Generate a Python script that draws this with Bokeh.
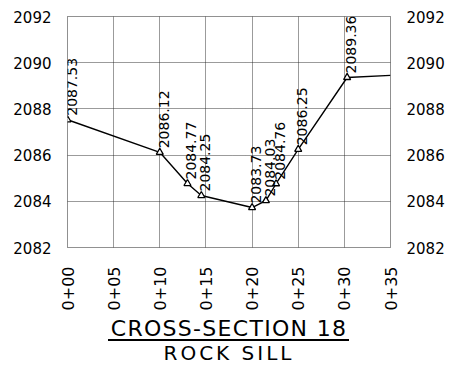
import math
from bokeh.plotting import figure
from bokeh.models import LinearAxis, FixedTicker, Range1d, ColumnDataSource, Div
from bokeh.layouts import column
from bokeh.core.properties import value
from bokeh.embed import file_html
from bokeh.resources import INLINE

# Data (station along section, elevation)
stations = [0, 10, 13, 14.5, 20, 21.5, 22.6, 25, 30.3]
elevations = [2087.53, 2086.12, 2084.77, 2084.25, 2083.73, 2084.03, 2084.76, 2086.25, 2089.36]
point_labels = ["2087.53", "2086.12", "2084.77", "2084.25", "2083.73", "2084.03", "2084.76", "2086.25", "2089.36"]
end_station = [35]
end_elevation = [2089.45]

x_ticks = [0, 5, 10, 15, 20, 25, 30, 35]
x_tick_labels = ["0+00", "0+05", "0+10", "0+15", "0+20", "0+25", "0+30", "0+35"]
y_ticks = [2082, 2084, 2086, 2088, 2090, 2092]

title_text = "CROSS-SECTION 18"
subtitle_text = "ROCK SILL"

FONT = "DejaVu Sans"

p = figure(width=447, height=313, output_backend="svg", toolbar_location=None,
           x_range=Range1d(0, 35), y_range=Range1d(2082, 2092),
           min_border_left=67, min_border_right=56, min_border_top=16, min_border_bottom=62,
           margin=0)
p.background_fill_color = "white"
p.border_fill_color = "white"
p.outline_line_color = "#222222"
p.outline_line_dash = "1 1"
p.outline_line_width = 1.1

# Axes
p.xaxis.ticker = FixedTicker(ticks=x_ticks)
p.xaxis.major_label_overrides = {t: l for t, l in zip(x_ticks, x_tick_labels)}
p.xaxis.major_label_orientation = math.pi / 2
p.xaxis.major_label_text_font = FONT
p.xaxis.major_label_text_font_size = "16px"
p.xaxis.major_label_text_color = "black"
p.xaxis.major_label_standoff = 13

p.yaxis.ticker = FixedTicker(ticks=y_ticks)
p.yaxis.major_label_text_font = FONT
p.yaxis.major_label_text_font_size = "15px"
p.yaxis.major_label_text_color = "black"
p.yaxis.major_label_standoff = 10

ry = LinearAxis(ticker=FixedTicker(ticks=y_ticks))
ry.major_label_text_font = FONT
ry.major_label_text_font_size = "15px"
ry.major_label_text_color = "black"
ry.major_label_standoff = 10
p.add_layout(ry, "right")

for ax in p.axis:
    ax.axis_line_color = None
    ax.major_tick_line_color = None
    ax.minor_tick_line_color = None

# Grid
p.xgrid.ticker = FixedTicker(ticks=x_ticks)
p.ygrid.ticker = FixedTicker(ticks=y_ticks)
for g in (p.xgrid, p.ygrid):
    g.grid_line_color = "#222222"
    g.grid_line_dash = "1 1"
    g.grid_line_width = 1.0
    g.grid_line_alpha = 0.9

# Profile line
p.line(stations + end_station, elevations + end_elevation, line_color="black", line_width=1.4)
src = ColumnDataSource(dict(x=stations, y=elevations, t=point_labels))
p.scatter("x", "y", source=src, marker="triangle", size=7, fill_color="white",
          line_color="black", line_width=1.3)
p.text("x", "y", text="t", source=src, angle=math.pi / 2, text_align="left",
       text_baseline="middle", x_offset=4, y_offset=-4, text_font=value(FONT),
       text_font_size="14px", text_color="black")

# Title block below the chart
title_html = (
    '<div style="position:relative;width:447px;height:50px;font-family:\'DejaVu Sans\';color:black">'
    '<div style="position:absolute;left:9px;top:5px;width:440px;height:21px;text-align:center;'
    'font-size:22px;line-height:21px;letter-spacing:1.3px;white-space:nowrap">' + title_text + '</div>'
    '<div style="position:absolute;left:108px;top:26px;width:241px;height:2px;background:black"></div>'
    '<div style="position:absolute;left:9px;top:30px;width:440px;height:20px;text-align:center;'
    'font-size:20px;line-height:20px;letter-spacing:3px;white-space:nowrap">' + subtitle_text + '</div>'
    '</div>'
)
div = Div(text=title_html, width=447, height=50, margin=0)

layout = column(p, div, spacing=0, margin=0)
open("out.html", "w").write(file_html(layout, INLINE))
